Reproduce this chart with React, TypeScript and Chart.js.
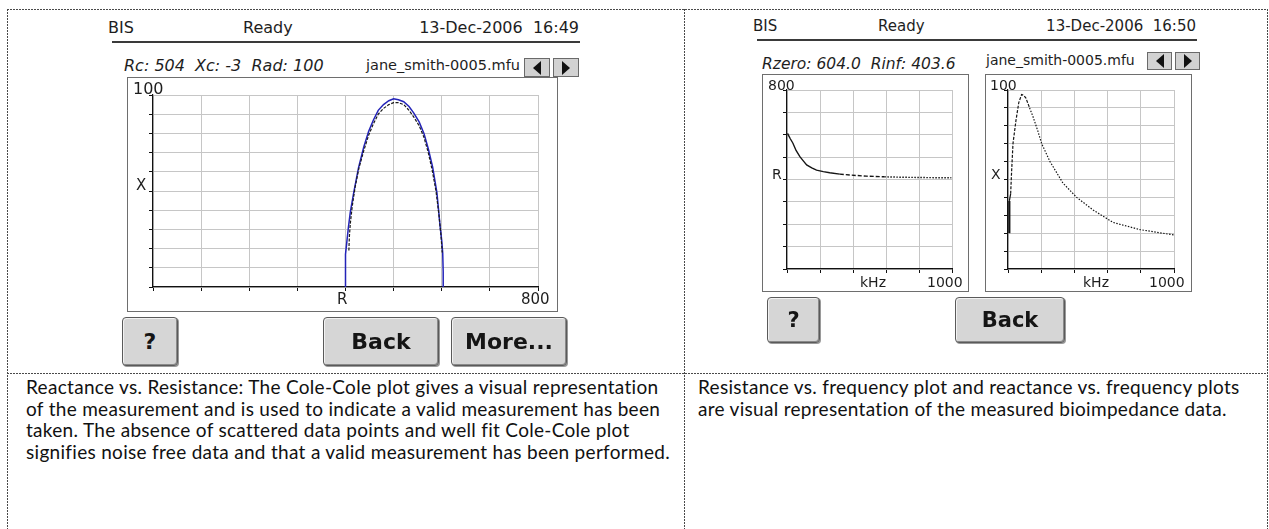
import React, { useEffect, useRef } from "react";
import { Chart, registerables } from "chart.js";

Chart.register(...registerables);

// ---------- Cole-Cole plot (Reactance X vs Resistance R) ----------
const coleRMin = 0;
const coleRMax = 800;
const coleRStep = 100;
const coleXMin = 0;
const coleXMax = 100;
const coleXStep = 10;
// fitted arc (blue)
const coleFitR = [400, 400, 403, 406, 410, 417, 427, 438, 448, 458, 468, 479, 490, 500, 510, 521, 532, 542, 553, 563, 572, 581, 590, 596, 600, 602, 603, 603];
const coleFitX = [0, 17, 24, 31, 39, 49, 62, 73, 81, 87, 92, 95, 97, 98, 97.5, 96.5, 94, 90.6, 86, 80, 72, 62.5, 49, 33, 24, 17.7, 8, 0];
// measured points (black)
const coleDataR = [407, 408, 410, 414, 420, 428, 438, 448, 458, 468, 479, 490, 500, 510, 521, 532, 542, 553, 563, 572, 580, 588, 594, 598, 601];
const coleDataX = [19, 26, 33, 42, 52, 62, 71, 79, 85, 90, 93, 95, 96, 96, 95, 92, 88.5, 84, 78, 70, 61, 50, 38, 28, 18];

// ---------- Resistance vs frequency ----------
const freqMin = 0;
const freqMax = 1000;
const freqStep = 200;
const resMin = 0;
const resMax = 800;
const resStep = 100;
const resFreq = [3, 10, 20, 36, 55, 78, 100, 119, 150, 179, 220, 259, 320, 380, 480, 590, 700, 800, 900, 996];
const resVal = [606, 596, 582, 562, 530, 502, 482, 465, 452, 442, 435, 430, 424, 420, 415, 412, 410, 409, 408, 408];

// ---------- Reactance vs frequency ----------
const reaMin = 0;
const reaMax = 100;
const reaStep = 10;
const reaFreq = [8, 8, 16, 22, 30, 48, 65, 82, 95, 108, 130, 151, 180, 203, 253, 331, 414, 512, 633, 795, 1000];
const reaVal = [20, 38, 42, 55, 70, 83, 93, 97.5, 97, 95.5, 90, 85, 77, 70, 60, 48, 40, 33, 26, 22, 19];

// ---------- Screen texts ----------
const leftHeader = { left: "BIS", mid: "Ready", right: "13-Dec-2006  16:49" };
const rightHeader = { left: "BIS", mid: "Ready", right: "13-Dec-2006  16:50" };
const leftInfo = "Rc: 504  Xc: -3  Rad: 100";
const rightInfo = "Rzero: 604.0  Rinf: 403.6";
const fileName = "jane_smith-0005.mfu";

const leftCaption = [
  "Reactance vs. Resistance: The Cole-Cole plot gives a visual representation",
  "of the measurement and is used to indicate a valid measurement has been",
  "taken. The absence of scattered data points and well fit Cole-Cole plot",
  "signifies noise free data and that a valid measurement has been performed.",
];
const rightCaption = [
  "Resistance vs. frequency plot and reactance vs. frequency plots",
  "are visual representation of the measured bioimpedance data.",
];

const toPts = (xs: number[], ys: number[]) => xs.map((x, i) => ({ x, y: ys[i] }));

const axis = (min: number, max: number, step: number, isX: boolean) => ({
  type: "linear",
  min,
  max,
  ticks: { display: false, stepSize: step },
  grid: { color: "#c6c6c6", lineWidth: 1, tickColor: "#111", tickLength: 4, drawTicks: true },
  border: { color: "#111", width: 1.2 },
  afterFit: (s: any) => {
    if (isX) s.height = 4;
    else s.width = 4;
  },
});

const baseOptions = (padding: any, xa: any, ya: any) => ({
  animation: false,
  responsive: false,
  devicePixelRatio: 1,
  events: [],
  layout: { padding },
  plugins: { legend: { display: false }, tooltip: { enabled: false }, title: { display: false } },
  scales: { x: xa, y: ya },
  elements: { point: { radius: 0 } },
});

function ChartCanvas({ left, top, width, height, makeConfig }: any) {
  const ref = useRef<HTMLCanvasElement>(null);
  useEffect(() => {
    const chart = new Chart(ref.current as HTMLCanvasElement, makeConfig());
    return () => chart.destroy();
  }, []);
  return (
    <canvas
      ref={ref}
      width={width}
      height={height}
      style={{ position: "absolute", left, top, width, height, display: "block" }}
    />
  );
}

const coleConfig = () => ({
  type: "scatter",
  data: {
    datasets: [
      {
        data: toPts(coleFitR, coleFitX),
        showLine: true,
        borderColor: "#2323b8",
        borderWidth: 1.5,
        pointRadius: 0,
        order: 2,
      },
      {
        data: toPts(coleDataR, coleDataX),
        showLine: true,
        borderColor: "#1a1a1a",
        borderWidth: 1.2,
        borderDash: [3, 1.5],
        pointRadius: 0,
        order: 1,
      },
    ],
  },
  options: baseOptions(
    { left: 21, right: 19, top: 17, bottom: 20 },
    axis(coleRMin, coleRMax, coleRStep, true),
    axis(coleXMin, coleXMax, coleXStep, false)
  ),
});

const resConfig = () => ({
  type: "scatter",
  data: {
    datasets: [
      {
        data: toPts(resFreq, resVal),
        showLine: true,
        borderColor: "#151515",
        borderWidth: 1.4,
        pointRadius: 0,
        segment: {
          borderDash: (ctx: any) =>
            ctx.p0.parsed.x >= 590 ? [1.5, 1.5] : ctx.p0.parsed.x >= 320 ? [4, 2] : undefined,
        },
      },
    ],
  },
  options: baseOptions(
    { left: 20, right: 16, top: 15, bottom: 18 },
    axis(freqMin, freqMax, freqStep, true),
    axis(resMin, resMax, resStep, false)
  ),
});

const reaConfig = () => ({
  type: "scatter",
  data: {
    datasets: [
      {
        data: toPts(reaFreq, reaVal),
        showLine: true,
        borderColor: "#151515",
        borderWidth: 1.2,
        pointRadius: 0,
        segment: {
          borderWidth: (ctx: any) => (ctx.p0DataIndex === 0 ? 2.2 : undefined),
          borderDash: (ctx: any) =>
            ctx.p0.parsed.x >= 130 ? [1.5, 1.5] : ctx.p0.parsed.x >= 10 ? [3, 1.5] : undefined,
        },
      },
    ],
  },
  options: baseOptions(
    { left: 18, right: 17, top: 15, bottom: 18 },
    axis(freqMin, freqMax, freqStep, true),
    axis(reaMin, reaMax, reaStep, false)
  ),
});

const DV = "'DejaVu Sans', 'Liberation Sans', sans-serif";

function T({ x, y, size, children, italic, bold, w, align, color }: any) {
  return (
    <div
      style={{
        position: "absolute",
        left: x,
        top: y,
        width: w,
        textAlign: align || "left",
        fontFamily: DV,
        fontSize: size,
        lineHeight: 1,
        fontStyle: italic ? "italic" : "normal",
        fontWeight: bold ? "bold" : "normal",
        color: color || "#1e1e1e",
        whiteSpace: "pre",
      }}
    >
      {children}
    </div>
  );
}

function Btn({ x, y, w, h, label, size }: any) {
  return (
    <div
      style={{
        position: "absolute",
        left: x,
        top: y,
        width: w,
        height: h,
        boxSizing: "border-box",
        background: "#d6d6d6",
        border: "1px solid #5a5a5a",
        borderRadius: 4,
        boxShadow: "inset 1px 1px 0 #f2f2f2, inset -1px -1px 0 #8a8a8a, 1px 1px 0 #9a9a9a",
        display: "flex",
        alignItems: "center",
        justifyContent: "center",
        fontFamily: DV,
        fontWeight: "bold",
        fontSize: size,
        color: "#151515",
      }}
    >
      {label}
    </div>
  );
}

function Arrow({ x, y, w, h, dir }: any) {
  const tri =
    dir === "left"
      ? { borderTop: "7px solid transparent", borderBottom: "7px solid transparent", borderRight: "8px solid #111" }
      : { borderTop: "7px solid transparent", borderBottom: "7px solid transparent", borderLeft: "8px solid #111" };
  return (
    <div
      style={{
        position: "absolute",
        left: x,
        top: y,
        width: w,
        height: h,
        boxSizing: "border-box",
        background: "#d2d2d2",
        border: "1px solid #6a6a6a",
        display: "flex",
        alignItems: "center",
        justifyContent: "center",
      }}
    >
      <div style={{ width: 0, height: 0, ...tri }} />
    </div>
  );
}

function Frame({ x, y, w, h, children }: any) {
  return (
    <div
      style={{
        position: "absolute",
        left: x,
        top: y,
        width: w,
        height: h,
        boxSizing: "border-box",
        border: "1px solid #6e6e6e",
        background: "#fff",
      }}
    >
      {children}
    </div>
  );
}

function HDash({ x, y, w }: any) {
  return (
    <div
      style={{
        position: "absolute",
        left: x,
        top: y,
        width: w,
        height: 1,
        backgroundImage: "repeating-linear-gradient(to right, #4a4a4a 0 2px, transparent 2px 3px)",
      }}
    />
  );
}
function VDash({ x, y, h }: any) {
  return (
    <div
      style={{
        position: "absolute",
        left: x,
        top: y,
        width: 1,
        height: h,
        backgroundImage: "repeating-linear-gradient(to bottom, #4a4a4a 0 2px, transparent 2px 3px)",
      }}
    />
  );
}

function Caption({ x, y, lines }: any) {
  return (
    <div
      style={{
        position: "absolute",
        left: x,
        top: y,
        fontFamily: "Lato, 'Open Sans', sans-serif",
        fontSize: 19,
        letterSpacing: "0.3px",
        lineHeight: "21.6px",
        color: "#111",
        whiteSpace: "pre",
      }}
    >
      {lines.map((l: string, i: number) => (
        <div key={i}>{l}</div>
      ))}
    </div>
  );
}

export default function App() {
  return (
    <div
      style={{
        position: "fixed",
        left: 0,
        top: 0,
        width: 1269,
        height: 529,
        overflow: "hidden",
        background: "#fff",
      }}
    >
      {/* table borders */}
      <HDash x={7} y={9} w={1261} />
      <HDash x={7} y={373} w={1261} />
      <VDash x={7} y={9} h={520} />
      <VDash x={684} y={9} h={520} />
      <VDash x={1267} y={9} h={520} />

      {/* ---------- LEFT SCREEN ---------- */}
      <T x={108} y={20} size={16}>{leftHeader.left}</T>
      <T x={243} y={20} size={16}>{leftHeader.mid}</T>
      <T x={370} y={20} size={16} w={209} align="right">{leftHeader.right}</T>
      <div style={{ position: "absolute", left: 112, top: 41, width: 468, height: 2, background: "#3a3a3a" }} />
      <T x={124} y={58} size={16} italic>{leftInfo}</T>
      <T x={366} y={58} size={14.5}>{fileName}</T>
      <Arrow x={524} y={58} w={26} h={19} dir="left" />
      <Arrow x={553} y={58} w={26} h={19} dir="right" />

      <Frame x={127} y={77} w={431} h={235}>
        <ChartCanvas left={0} top={0} width={429} height={233} makeConfig={coleConfig} />
        <T x={5} y={3} size={16}>100</T>
        <T x={8} y={100} size={15}>X</T>
        <T x={209} y={214} size={15}>R</T>
        <T x={393} y={214} size={15}>800</T>
      </Frame>

      <Btn x={122} y={317} w={56} h={49} label="?" size={22} />
      <Btn x={323} y={317} w={116} h={49} label="Back" size={22} />
      <Btn x={451} y={317} w={116} h={49} label="More..." size={22} />

      {/* ---------- RIGHT SCREEN ---------- */}
      <T x={753} y={19} size={15}>{rightHeader.left}</T>
      <T x={878} y={19} size={15}>{rightHeader.mid}</T>
      <T x={1000} y={19} size={15} w={196} align="right">{rightHeader.right}</T>
      <div style={{ position: "absolute", left: 757, top: 39, width: 440, height: 2, background: "#3a3a3a" }} />
      <T x={762} y={57} size={15.5} italic>{rightInfo}</T>
      <T x={986} y={53} size={14}>{fileName}</T>
      <Arrow x={1147} y={52} w={25} h={18} dir="left" />
      <Arrow x={1175} y={52} w={25} h={18} dir="right" />

      <Frame x={762} y={74} w={207} h={218}>
        <ChartCanvas left={0} top={0} width={205} height={216} makeConfig={resConfig} />
        <T x={5} y={3} size={14}>800</T>
        <T x={9} y={92} size={14}>R</T>
        <T x={97} y={200} size={14}>kHz</T>
        <T x={164} y={200} size={14}>1000</T>
      </Frame>

      <Frame x={985} y={74} w={207} h={218}>
        <ChartCanvas left={0} top={0} width={205} height={216} makeConfig={reaConfig} />
        <T x={4} y={3} size={14}>100</T>
        <T x={5} y={92} size={14}>X</T>
        <T x={97} y={200} size={14}>kHz</T>
        <T x={163} y={200} size={14}>1000</T>
      </Frame>

      <Btn x={767} y={297} w={53} h={46} label="?" size={21} />
      <Btn x={955} y={297} w={110} h={46} label="Back" size={21} />

      {/* ---------- CAPTIONS ---------- */}
      <Caption x={26} y={376} lines={leftCaption} />
      <Caption x={698} y={376} lines={rightCaption} />
    </div>
  );
}
